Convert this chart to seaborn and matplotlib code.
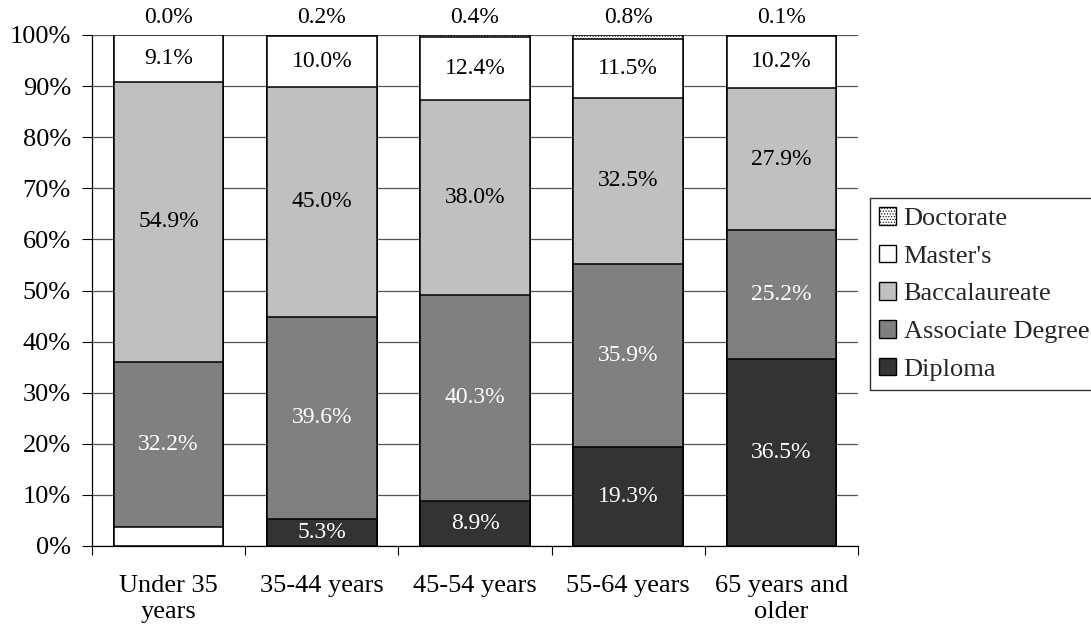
import numpy as np
import pandas as pd
import matplotlib
matplotlib.use("Agg")
import matplotlib.pyplot as plt
import seaborn as sns
from matplotlib.patches import Patch
from matplotlib.ticker import FixedLocator, PercentFormatter

categories = ["Under 35\nyears", "35-44 years", "45-54 years", "55-64 years", "65 years and\nolder"]
series = ["Diploma", "Associate Degree", "Baccalaureate", "Master's", "Doctorate"]
diploma = [3.8, 5.3, 8.9, 19.3, 36.5]
associate = [32.2, 39.6, 40.3, 35.9, 25.2]
baccalaureate = [54.9, 45.0, 38.0, 32.5, 27.9]
masters = [9.1, 10.0, 12.4, 11.5, 10.2]
doctorate = [0.0, 0.2, 0.4, 0.8, 0.1]
diploma_labelled = [False, True, True, True, True]

colors = ["#333333", "#808080", "#c0c0c0", "#ffffff", "#ffffff"]
text_colors = ["white", "white", "black", "black", "black"]

sns.set_theme(style="white")
plt.rcParams["font.family"] = ["Liberation Serif", "DejaVu Serif"]
plt.rcParams["hatch.linewidth"] = 0.5
plt.rcParams["hatch.color"] = "#444444"

vals = np.array([diploma, associate, baccalaureate, masters, doctorate])
pct = vals / vals.sum(axis=0) * 100
cum = np.cumsum(pct, axis=0)

fig = plt.figure(figsize=(10.91, 6.37), dpi=100)
ax = fig.add_axes([92 / 1091, 1 - 546 / 637, (858 - 92) / 1091, (546 - 35) / 637])

for i in range(len(series) - 1, -1, -1):
    df = pd.DataFrame({"cat": categories, "val": cum[i]})
    sns.barplot(data=df, x="cat", y="val", color=colors[i], saturation=1,
                width=0.715, edgecolor="black", linewidth=1.1, ax=ax,
                hatch="......" if series[i] == "Doctorate" else None, zorder=3)

# Under 35 diploma segment drawn white in the reference
ax.patches[-5].set_facecolor("white")

for i in range(len(series)):
    for j in range(len(categories)):
        if series[i] == "Doctorate":
            ax.text(j, 103.4, f"{vals[i, j]:.1f}%", ha="center", va="center",
                    fontsize=17, color="black", clip_on=False)
            continue
        if i == 0 and not diploma_labelled[j]:
            continue
        mid = cum[i, j] - pct[i, j] / 2
        ax.text(j, mid, f"{vals[i, j]:.1f}%", ha="center", va="center",
                fontsize=17, color=text_colors[i], zorder=5)

ax.set_ylim(0, 100)
ax.set_xlim(-0.5, 4.5)
ax.yaxis.set_major_locator(FixedLocator(np.arange(0, 101, 10)))
ax.yaxis.set_major_formatter(PercentFormatter(decimals=0))
ax.grid(axis="y", color="#555555", linewidth=0.9, zorder=0)
ax.set_axisbelow(True)
ax.set_xlabel("")
ax.set_ylabel("")
for s in ["top", "right"]:
    ax.spines[s].set_visible(False)
for s in ["left", "bottom"]:
    ax.spines[s].set_color("black")
    ax.spines[s].set_linewidth(0.9)
ax.tick_params(axis="y", which="major", left=True, length=7.2, width=0.8, color="black",
               labelsize=19, pad=8, labelcolor="black")
ax.tick_params(axis="x", which="major", bottom=False, length=0, labelsize=19, pad=21,
               labelcolor="black")
ax.set_xticks(np.arange(-0.5, 4.6, 1), minor=True)
ax.tick_params(axis="x", which="minor", bottom=True, length=6.5, width=0.8, color="black")

handles = [Patch(facecolor=colors[i], edgecolor="black", linewidth=1.0,
                 hatch="......" if series[i] == "Doctorate" else None)
           for i in range(len(series) - 1, -1, -1)]
leg = fig.legend(handles, series[::-1], loc="upper left",
                 bbox_to_anchor=(870 / 1091, 1 - 198 / 637), fontsize=19,
                 frameon=True, fancybox=False, edgecolor="black",
                 handlelength=0.65, handleheight=0.65, handletextpad=0.27,
                 labelspacing=0.55, borderpad=0.35, borderaxespad=0)
leg.get_frame().set_linewidth(1.0)

fig.savefig("out.png", dpi=100)
